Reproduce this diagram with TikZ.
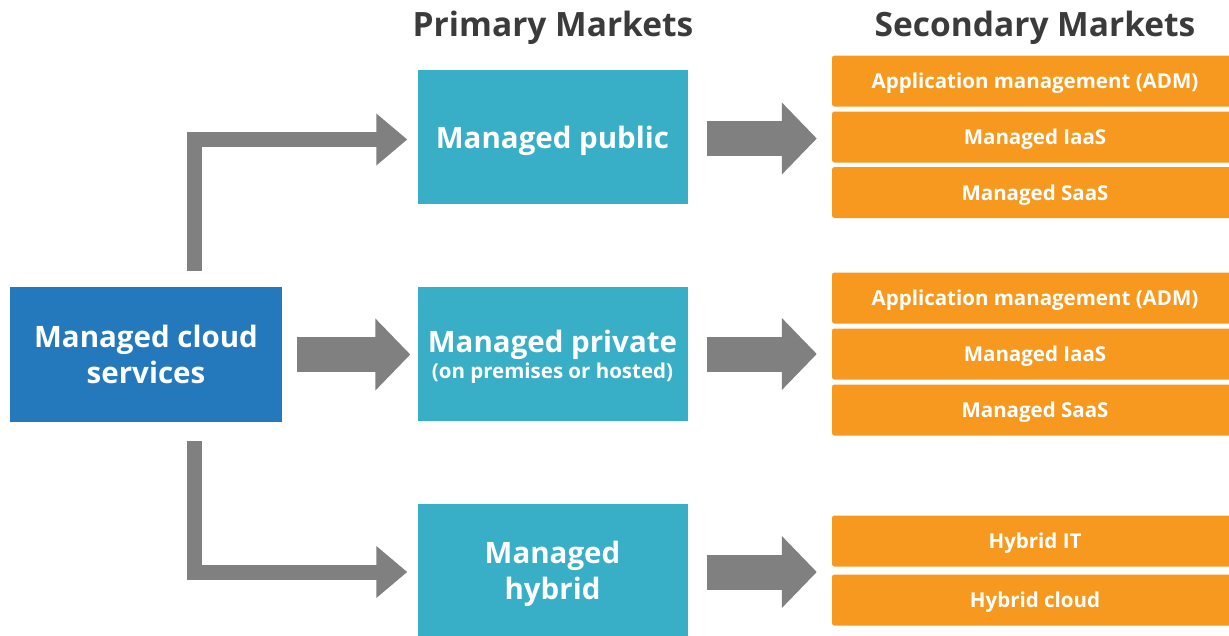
\documentclass[tikz,border=0pt]{standalone}
\usepackage{fontspec}
\setmainfont{Open Sans}
\usetikzlibrary{arrows.meta,calc}
\definecolor{cblue}{HTML}{2479BD}
\definecolor{cteal}{HTML}{38AEC7}
\definecolor{corange}{HTML}{F7991E}
\definecolor{cgray}{HTML}{808080}
\definecolor{ctitle}{HTML}{3B3B3B}
\tikzset{
  bigbox/.style={fill=#1, minimum width=270, minimum height=134, text=white, align=center, inner sep=0, text depth=0pt, font=\bfseries\fontsize{29.5}{36}\selectfont},
  obox/.style={fill=corange, rounded corners=2.5, minimum width=406, minimum height=51, text=white, inner sep=0, text depth=0pt, font=\bfseries\fontsize{20.5}{24}\selectfont},
  title/.style={text=ctitle, font=\bfseries\fontsize{33.5}{40}\selectfont},
  thinarrow/.style={draw=cgray, line width=15, line join=miter, -{Triangle[width=50, length=31]}},
  fatarrow/.style={draw=cgray, line width=35, -{Triangle[width=70, length=35]}},
}
\begin{document}
\begin{tikzpicture}[x=1pt,y=-1pt]
\useasboundingbox (0,0) rectangle (1229,635);
\node[title] (t1) at (553,28) {Primary Markets};
\node[title] (t2) at (1035,28) {Secondary Markets};
\node[bigbox=cblue, minimum width=272, minimum height=135] (cloud) at (146,354.5) {Managed cloud\\services};
\node[bigbox=cteal] (pub) at (552.5,137) {Managed public};
\node[bigbox=cteal] (priv) at (552.5,354) {Managed private\\[-10pt]{\fontsize{20.5}{24}\selectfont(on premises or hosted)}};
\node[bigbox=cteal, minimum height=132] (hyb) at (552.5,570) {Managed\\hybrid};
% secondary group 1
\node[obox] (a1) at (1035,81) {Application management (ADM)};
\node[obox] (a2) at (1035,137) {Managed IaaS};
\node[obox] (a3) at (1035,192.5) {Managed SaaS};
% group 2
\node[obox] (b1) at (1035,298) {Application management (ADM)};
\node[obox] (b2) at (1035,354) {Managed IaaS};
\node[obox] (b3) at (1035,410) {Managed SaaS};
% group 3
\node[obox] (c1) at (1035,541) {Hybrid IT};
\node[obox] (c2) at (1035,600) {Hybrid cloud};
\coordinate (cmid) at ($(c1.west)!0.5!(c2.west)+(0,1.5)$);
% connectors
\draw[thinarrow, shorten >=10] ($(cloud.north)+(48.5,-16)$) |- ($(pub.west)+(0,2.5)$);
\draw[thinarrow, shorten >=10] ($(cloud.south)+(48.5,19)$) |- ($(hyb.west)+(0,2)$);
\draw[fatarrow, shorten <=15, shorten >=7] (cloud.east) -- (cloud.east -| priv.west);
\draw[fatarrow, shorten <=19, shorten >=15] ($(pub.east)+(0,1.5)$) -- ($(a2.west)+(0,1.5)$);
\draw[fatarrow, shorten <=19, shorten >=15] (priv.east) -- (b2.west);
\draw[fatarrow, shorten <=19, shorten >=15] (cmid -| hyb.east) -- (cmid);
\end{tikzpicture}
\end{document}
